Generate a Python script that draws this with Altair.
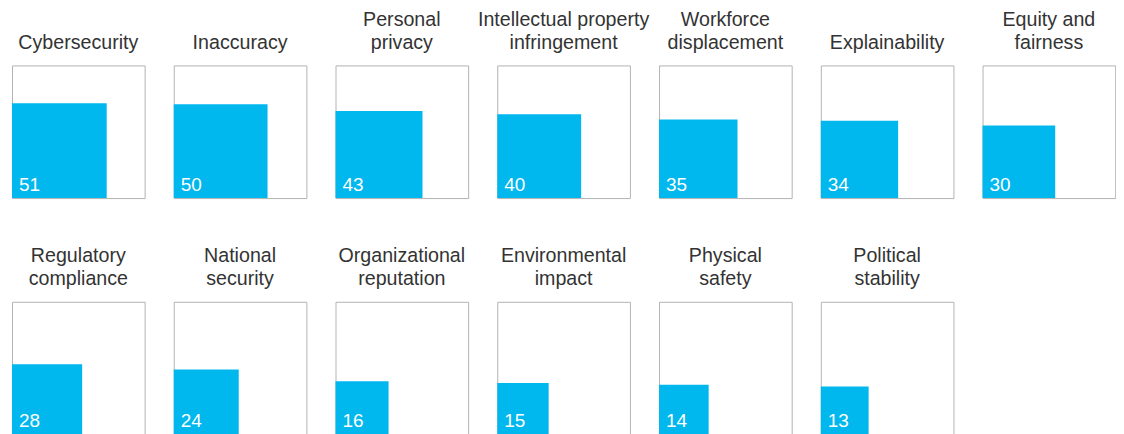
import altair as alt
import pandas as pd

categories = [
    "Cybersecurity",
    "Inaccuracy",
    "Personal|privacy",
    "Intellectual property|infringement",
    "Workforce|displacement",
    "Explainability",
    "Equity and|fairness",
    "Regulatory|compliance",
    "National|security",
    "Organizational|reputation",
    "Environmental|impact",
    "Physical|safety",
    "Political|stability",
]
values = [51, 50, 43, 40, 35, 34, 30, 28, 24, 16, 15, 14, 13]

df = pd.DataFrame({"label": categories, "value": values})

BLUE = "#00B7EE"

base = alt.Chart(df).transform_calculate(
    side="sqrt(datum.value / 100)", zero="0"
)

sq = base.mark_rect(color=BLUE).encode(
    x=alt.X("zero:Q", scale=alt.Scale(domain=[0, 1], nice=False, zero=True), axis=None),
    x2="side:Q",
    y=alt.Y("zero:Q", scale=alt.Scale(domain=[0, 1], nice=False, zero=True), axis=None),
    y2="side:Q",
)

txt = base.mark_text(
    align="left", baseline="alphabetic", dx=7, dy=-7,
    color="white", fontSize=19, font="Liberation Sans", fontWeight=300,
).encode(
    x=alt.X("zero:Q", scale=alt.Scale(domain=[0, 1], nice=False), axis=None),
    y=alt.Y("zero:Q", scale=alt.Scale(domain=[0, 1], nice=False), axis=None),
    text=alt.Text("value:Q"),
)

chart = alt.layer(sq, txt).properties(width=133, height=133).facet(
    facet=alt.Facet(
        "label:N",
        sort=categories,
        title=None,
        header=alt.Header(
            labelExpr="split(datum.value, '|')",
            labelFont="Liberation Sans",
            labelFontSize=19.7,
            labelColor="#333333",
            labelBaseline="bottom",
            labelLineHeight=23,
            labelPadding=-7,
        ),
    ),
    columns=7,
    spacing={"row": 104, "column": 29.2},
    bounds="flush",
).configure_view(
    stroke="#B3B3B3", strokeWidth=1
).properties(
    padding={"left": 3, "top": 0, "right": 0, "bottom": 0}
)

chart.save("out.html", embed_options={"renderer": "svg", "actions": False})
